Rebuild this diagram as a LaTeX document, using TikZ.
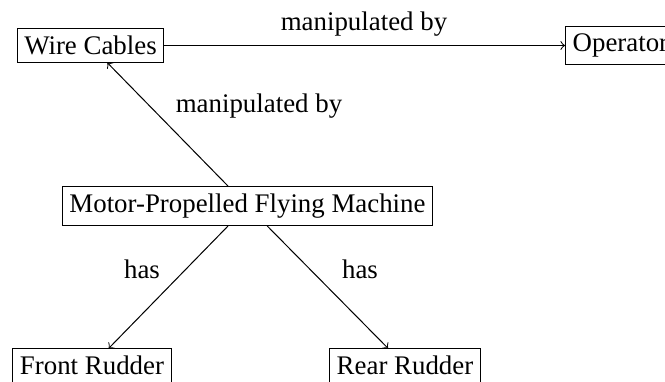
\documentclass[tikz,border=0pt]{standalone}
\usepackage{fontspec}
\setmainfont{Liberation Serif}
\begin{document}
\begin{tikzpicture}[x=0.3968pt,y=-0.3968pt,
  box/.style={draw,rectangle,inner sep=2.85pt,font=\fontsize{10.66pt}{12.8pt}\selectfont},
  lbl/.style={inner sep=0pt,anchor=base,font=\fontsize{10.66pt}{12.8pt}\selectfont},
  conn/.style={->}]
\useasboundingbox (0,0) rectangle (665,381);
\node[box] (wire) at (90.5,45.5) {Wire Cables};
\node[box,anchor=west] (oper) at (565,45.5) {Operator};
\node[box] (motor) at (247.5,206) {Motor-Propelled Flying Machine};
\node[box] (front) at (92,365.5) {Front Rudder};
\node[box] (rear) at (405,365.5) {Rear Rudder};
\draw[conn] (wire) -- (oper);
\draw[conn] (motor) -- (wire);
\draw[conn] (motor) -- (front);
\draw[conn] (motor) -- (rear);
\node[lbl] (l1) at (364,30) {manipulated by};
\node[lbl] (l2) at (259,112) {manipulated by};
\node[lbl] (l3) at (142,278) {has};
\node[lbl] (l4) at (360,278) {has};
\end{tikzpicture}
\end{document}
